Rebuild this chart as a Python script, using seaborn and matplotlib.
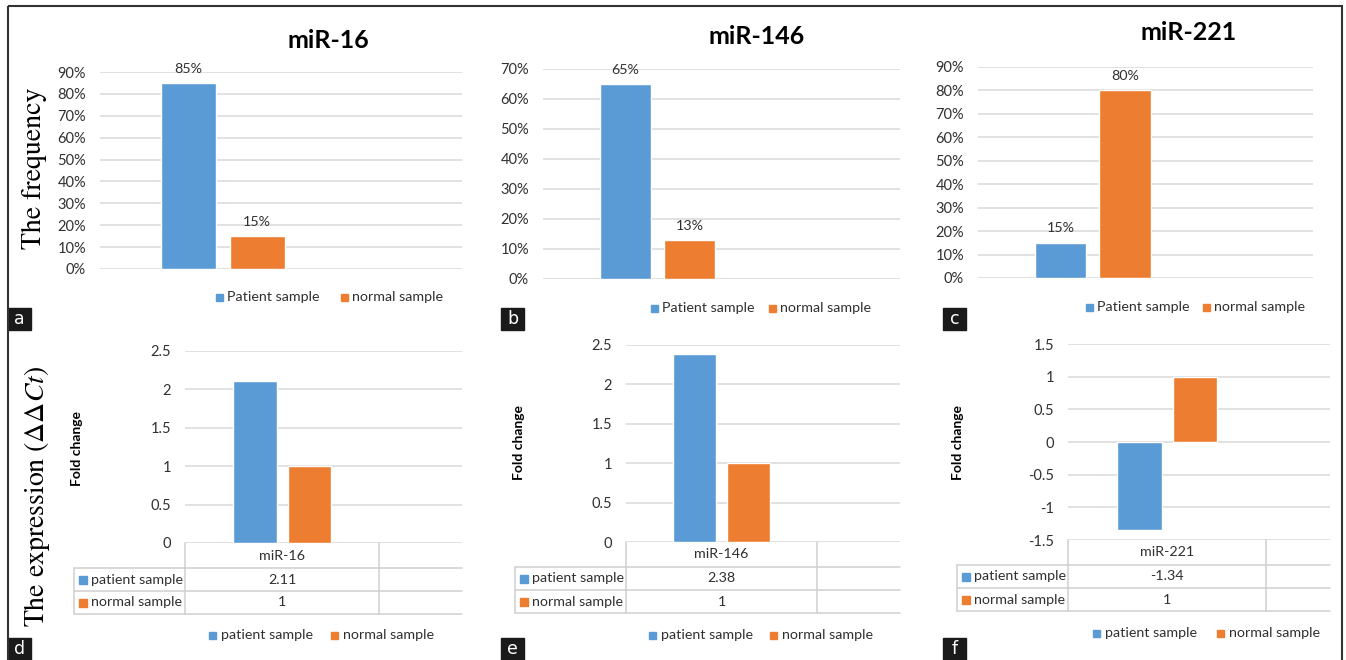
import numpy as np
import pandas as pd
import seaborn as sns
import matplotlib.pyplot as plt
import matplotlib.transforms as mtransforms
from matplotlib.patches import Rectangle
from matplotlib.lines import Line2D
from matplotlib.ticker import FuncFormatter

W, H = 1346, 660

# ---- data ----
mirs = ["miR-16", "miR-146", "miR-221"]
freq_series = ["Patient sample", "normal sample"]
freq_patient = [85, 65, 15]
freq_normal = [15, 13, 80]
freq_ymax = [90, 70, 90]

fold_series = ["patient sample", "normal sample"]
fold_patient = [2.11, 2.38, -1.34]
fold_normal = [1, 1, 1]
fold_ylim = [(0, 2.5), (0, 2.5), (-1.5, 1.5)]

letters_top = ["a", "b", "c"]
letters_bot = ["d", "e", "f"]

BLUE = "#5B9BD5"
ORANGE = "#ED7D31"
GRID = "#D9D9D9"
TXT = "#303030"
COLORS = [BLUE, ORANGE]

# ---- layout (pixels from top-left) ----
top_rects = [(100, 72, 462, 269), (543, 69, 900, 279), (978, 67, 1313, 278)]
top_xright = [1.39, 1.51, 1.37]
bot_rects = [(185, 351, 462, 543), (626, 345, 900, 542), (1068, 344, 1330, 540)]
bot_xright = [1.32, 1.33, 1.17]
XLEFT = -0.713
title_pos = [(328, 41), (757, 36), (1189, 33)]
top_leg = [(297, 216, 341), (308, 651, 769), (307, 1086, 1203)]
bot_leg = [(635, 209, 331), (635, 649, 770), (633, 1093, 1217)]
box_x = [8, 501, 943]
fold_lab = [(77, 448), (519, 443), (958, 443)]

sns.set_theme(style="white")
plt.rcParams["font.family"] = ["Lato", "DejaVu Sans"]
plt.rcParams["mathtext.fontset"] = "stix"

fig = plt.figure(figsize=(W / 100, H / 100), dpi=100)
PX = mtransforms.Affine2D().scale(1 / W, -1 / H).translate(0, 1) + fig.transFigure


def add_ax(r):
    x0, y0, x1, y1 = r
    return fig.add_axes([x0 / W, 1 - y1 / H, (x1 - x0) / W, (y1 - y0) / H])


def style_ax(ax):
    for s in ax.spines.values():
        s.set_visible(False)
    ax.yaxis.grid(True, color=GRID, lw=1.1)
    ax.set_axisbelow(True)
    ax.tick_params(axis="y", length=0, pad=10, labelsize=10.5, labelcolor=TXT)
    ax.set_xticks([])
    ax.set_xlabel("")
    ax.set_ylabel("")


def legend_row(y, xs, labels, size=7, gap=11, fs=10.3):
    for x, lab, c in zip(xs, labels, COLORS):
        fig.add_artist(Rectangle((x, y - size / 2), size, size, color=c, transform=PX))
        fig.text(x + gap, y, lab, transform=PX, ha="left", va="center",
                 fontsize=fs, color=TXT)


def letter_box(x, y, letter):
    fig.add_artist(Rectangle((x, y), 23, 22, color="#1a1a1a", transform=PX))
    fig.text(x + 11.5, y + 11, letter, transform=PX, ha="center", va="center",
             color="white", fontsize=12.5, family="DejaVu Sans")


# ---- frequency panels ----
for i in range(3):
    ax = add_ax(top_rects[i])
    df = pd.DataFrame({"mir": [mirs[i]] * 2, "sample": freq_series,
                       "value": [freq_patient[i], freq_normal[i]]})
    sns.barplot(data=df, x="mir", y="value", hue="sample", palette=COLORS,
                saturation=1, width=0.8, gap=0.2, ax=ax, legend=False)
    ax.set_xlim(XLEFT, top_xright[i])
    ax.set_ylim(0, freq_ymax[i])
    ax.set_yticks(np.arange(0, freq_ymax[i] + 1, 10))
    ax.yaxis.set_major_formatter(FuncFormatter(lambda v, p: f"{v:.0f}%"))
    style_ax(ax)
    for cont in ax.containers:
        ax.bar_label(cont, fmt="{:.0f}%", padding=6, fontsize=10.3, color=TXT)
    tx, ty = title_pos[i]
    fig.text(tx, ty, mirs[i], transform=PX, ha="center", va="center",
             fontsize=18, fontweight="bold", color="black")
    y, xa, xb = top_leg[i]
    legend_row(y, [xa, xb], freq_series)
    letter_box(box_x[i], 308, letters_top[i])

# ---- fold change panels ----
for i in range(3):
    ax = add_ax(bot_rects[i])
    df = pd.DataFrame({"mir": [mirs[i]] * 2, "sample": fold_series,
                       "value": [fold_patient[i], fold_normal[i]]})
    sns.barplot(data=df, x="mir", y="value", hue="sample", palette=COLORS,
                saturation=1, width=0.8, gap=0.2, ax=ax, legend=False)
    lo, hi = fold_ylim[i]
    ax.set_xlim(XLEFT, bot_xright[i])
    ax.set_ylim(lo, hi)
    ax.set_yticks(np.arange(lo, hi + 0.01, 0.5))
    ax.yaxis.set_major_formatter(FuncFormatter(lambda v, p: f"{v:g}"))
    style_ax(ax)
    fx, fy = fold_lab[i]
    fig.text(fx, fy, "Fold change", transform=PX, rotation=90, ha="center",
             va="center", fontsize=10, fontweight="bold", color="black")

    # data table under the axis
    x0, _, x1, ybot = bot_rects[i]
    rows = [ybot, ybot + 25, ybot + 48, ybot + 71]
    leg_left = x0 - 111
    tr = mtransforms.blended_transform_factory(ax.transData, PX)
    lc = "#CFCFCF"
    for r in rows[1:]:
        fig.add_artist(Line2D([leg_left, x1], [r, r], color=lc, lw=1.1, transform=PX))
    fig.add_artist(Line2D([x0, x0], [rows[0], rows[3]], color=lc, lw=1.1, transform=PX))
    fig.add_artist(Line2D([leg_left, leg_left], [rows[1], rows[3]], color=lc, lw=1.1, transform=PX))
    fig.add_artist(Line2D([-XLEFT, -XLEFT], [rows[0], rows[3]], color=lc, lw=1.1, transform=tr))
    fig.text(0, (rows[0] + rows[1]) / 2, mirs[i], transform=tr, ha="center",
             va="center", fontsize=10.3, color=TXT)
    vals = [fold_patient[i], fold_normal[i]]
    for k in range(2):
        yc = (rows[k + 1] + rows[k + 2]) / 2
        fig.text(0, yc, f"{vals[k]:g}", transform=tr, ha="center", va="center",
                 fontsize=10.3, color=TXT)
        fig.add_artist(Rectangle((leg_left + 5, yc - 4), 8, 8, color=COLORS[k], transform=PX))
        fig.text(leg_left + 17, yc, fold_series[k], transform=PX, ha="left",
                 va="center", fontsize=10.3, color=TXT)

    y, xa, xb = bot_leg[i]
    legend_row(y, [xa, xb], fold_series, gap=12)
    letter_box(box_x[i], 638, letters_bot[i])

# ---- side labels ----
fig.text(34, 168, "The frequency", transform=PX, rotation=90, ha="center",
         va="center", fontsize=20, family="STIXGeneral", color="black")
fig.text(37, 496, r"The expression $(\Delta\Delta Ct)$", transform=PX, rotation=90,
         ha="center", va="center", fontsize=20, family="STIXGeneral", color="black")

# outer frame
fig.add_artist(Rectangle((8, 6), 1334, 660, fill=False, edgecolor="#333333",
                         lw=1.5, transform=PX))

fig.savefig("out.png", dpi=100, facecolor="white")
